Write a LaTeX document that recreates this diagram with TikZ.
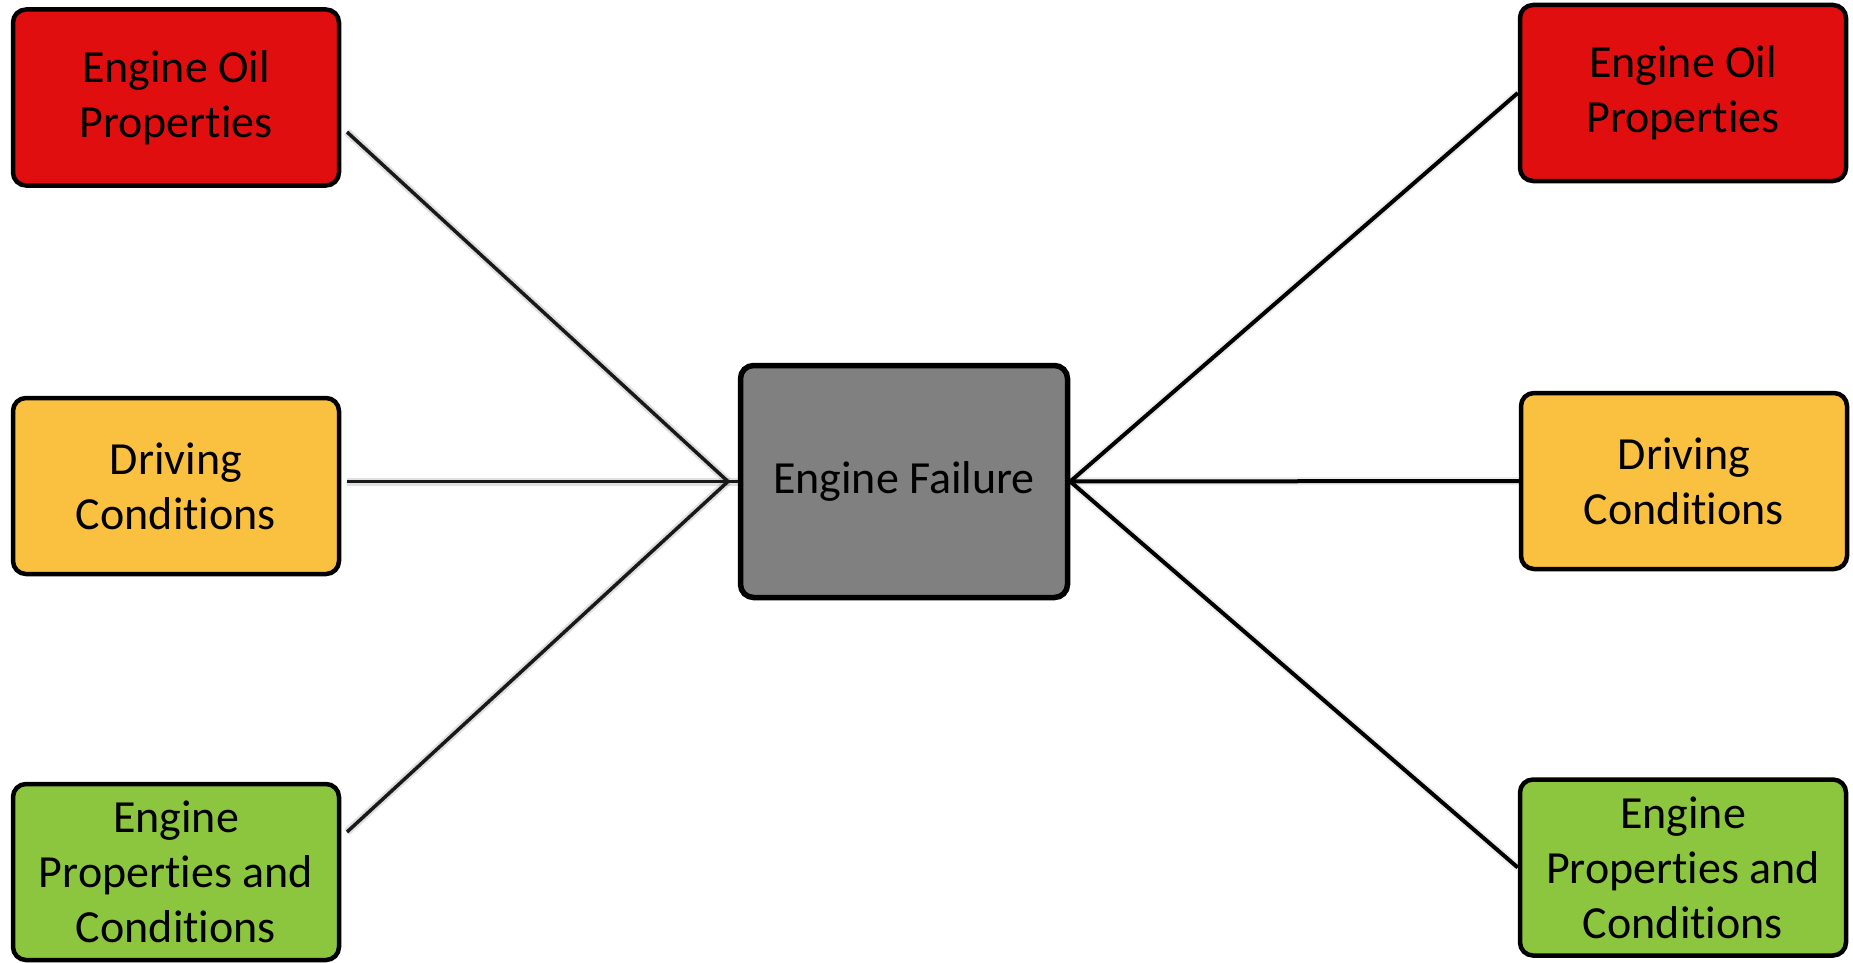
\documentclass[tikz,border=0pt]{standalone}
\usepackage{fontspec}
\setmainfont{Carlito}[Ligatures={NoCommon}]
\begin{document}
\begin{tikzpicture}[x=1pt,y=-1pt,
  box/.style={draw=black, line width=4.5pt, rounded corners=13pt, align=center,
    minimum width=326pt, minimum height=176pt, inner sep=0pt,
    font=\fontsize{46}{55}\selectfont, text=black},
  link/.style={draw=black, line width=4pt},
  leftlink/.style={draw=black!90, line width=3.5pt},
  haze/.style={draw=black, line width=8pt, opacity=0.12}]
\definecolor{oilred}{RGB}{224,14,14}
\definecolor{drivyellow}{RGB}{250,192,64}
\definecolor{enggreen}{RGB}{140,198,63}
\definecolor{failgray}{RGB}{128,128,128}
\useasboundingbox (0,0) rectangle (1853,963);

% central node
\node[box, fill=failgray, line width=5.5pt, minimum width=327pt, minimum height=232pt]
  (fail) at (904,481.5) {Engine Failure};

% left column
\node[box, fill=oilred]     (oilL)  at (176,97.5)  {Engine Oil\\Properties};
\node[box, fill=drivyellow] (drvL)  at (176,486)   {Driving\\Conditions};
\node[box, fill=enggreen]   (engL)  at (176,872)   {Engine\\Properties and\\Conditions};

% right column
\node[box, fill=oilred]     (oilR)  at (1683,93)   {Engine Oil\\Properties};
\node[box, fill=drivyellow] (drvR)  at (1684,481)  {Driving\\Conditions};
\node[box, fill=enggreen]   (engR)  at (1683,867.5){Engine\\Properties and\\Conditions};

% loose ends of the left connectors and their meeting point
\coordinate (lt) at (347,132);
\coordinate (lm) at (347,481.5);
\coordinate (lb) at (347,832);
\coordinate (lj) at (728,481.5);

% soft shadows under the connectors
\begin{scope}[yshift=-5pt]
  \draw[haze] (lt) -- (lj);
  \draw[haze] (lm) -- (fail.west);
  \draw[haze] (lb) -- (lj);
\end{scope}
\begin{scope}[xshift=2pt, yshift=4pt]
  \draw[haze, opacity=0.07] (fail.east) -- (oilR.west);
  \draw[haze, opacity=0.07] (fail.east) -- (drvR.west);
  \draw[haze, opacity=0.07] (fail.east) -- (engR.west);
\end{scope}

% left connectors
\draw[leftlink] (lt) -- (lj);
\draw[leftlink] (lm) -- (fail.west);
\draw[leftlink] (lb) -- (lj);

% right connectors
\draw[link] (fail.east) -- (oilR.west);
\draw[link] (fail.east) -- (drvR.west);
\draw[link] (fail.east) -- (engR.west);
\end{tikzpicture}
\end{document}
